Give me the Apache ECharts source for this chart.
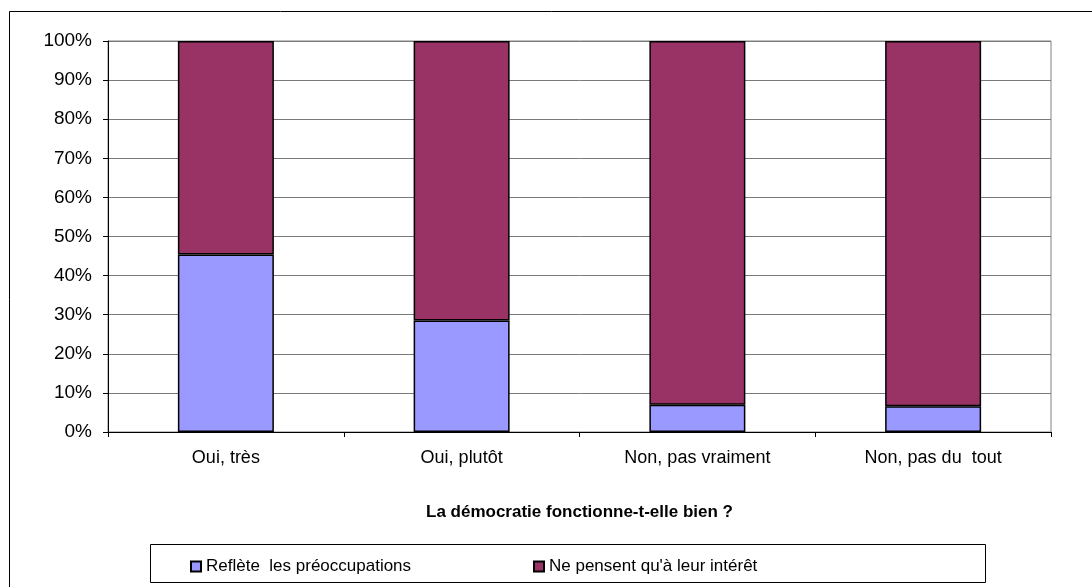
<!DOCTYPE html>
<html>
<head>
<meta charset="utf-8">
<script src="https://cdn.jsdelivr.net/npm/echarts@6/dist/echarts.min.js"></script>
<style>
html,body{margin:0;padding:0;background:#fff;}
#chart{width:1092px;height:587px;}
</style>
</head>
<body>
<div id="chart"></div>
<script>
var categories = ['Oui, très', 'Oui, plutôt', 'Non, pas vraiment', 'Non, pas du  tout'];
var seriesNames = ['Reflète  les préoccupations', "Ne pensent qu'à leur intérêt"];
var reflete = [45.4, 28.5, 7.0, 6.6];
var interet = [54.6, 71.5, 93.0, 93.4];
var xTitle = 'La démocratie fonctionne-t-elle bien ?';

var FONT = '"Liberation Sans", Arial, sans-serif';
var chart = echarts.init(document.getElementById('chart'));
chart.setOption({
  backgroundColor: '#fff',
  animation: false,
  textStyle: { fontFamily: FONT },
  grid: { left: 108, right: 41, top: 41, bottom: 155, show: true, borderColor: '#808080', borderWidth: 1 },
  xAxis: {
    type: 'category',
    data: categories,
    axisLine: { lineStyle: { color: '#000', width: 1 } },
    axisTick: { show: true, length: 5, lineStyle: { color: '#000' } },
    axisLabel: { color: '#000', fontSize: 18, margin: 17, fontFamily: FONT },
    name: xTitle,
    nameLocation: 'middle',
    nameGap: 72,
    nameTextStyle: { color: '#000', fontSize: 17, fontWeight: 'bold', fontFamily: FONT }
  },
  yAxis: {
    type: 'value',
    min: 0, max: 100, interval: 10,
    axisLine: { show: true, lineStyle: { color: '#000', width: 1 } },
    axisTick: { show: true, length: 5, lineStyle: { color: '#000' } },
    axisLabel: { color: '#000', fontSize: 19, margin: 16, formatter: '{value}%', fontFamily: FONT },
    splitLine: { show: true, lineStyle: { color: '#7a7a7a', width: 1 } }
  },
  legend: [
    { data: [seriesNames[0]], left: 185, top: 553, itemWidth: 10, itemHeight: 10, icon: 'rect',
      textStyle: { color: '#000', fontSize: 17, fontFamily: FONT } },
    { data: [seriesNames[1]], left: 528, top: 553, itemWidth: 10, itemHeight: 10, icon: 'rect',
      textStyle: { color: '#000', fontSize: 17, fontFamily: FONT } }
  ],
  graphic: [
    { type: 'rect', shape: { x: 9.5, y: 11.5, width: 1100, height: 600 }, style: { fill: 'none', stroke: '#000', lineWidth: 1 }, silent: true, z: -1 },
    { type: 'rect', shape: { x: 150.5, y: 544.5, width: 835, height: 38 }, style: { fill: 'none', stroke: '#000', lineWidth: 1 }, silent: true }
  ],
  series: [
    { name: seriesNames[0], type: 'bar', stack: 'a', data: reflete, barWidth: 96,
      itemStyle: { color: '#9999FF', borderColor: '#000', borderWidth: 1.5 } },
    { name: seriesNames[1], type: 'bar', stack: 'a', data: interet, barWidth: 96,
      itemStyle: { color: '#993366', borderColor: '#000', borderWidth: 1.5 } }
  ]
});
</script>
</body>
</html>
